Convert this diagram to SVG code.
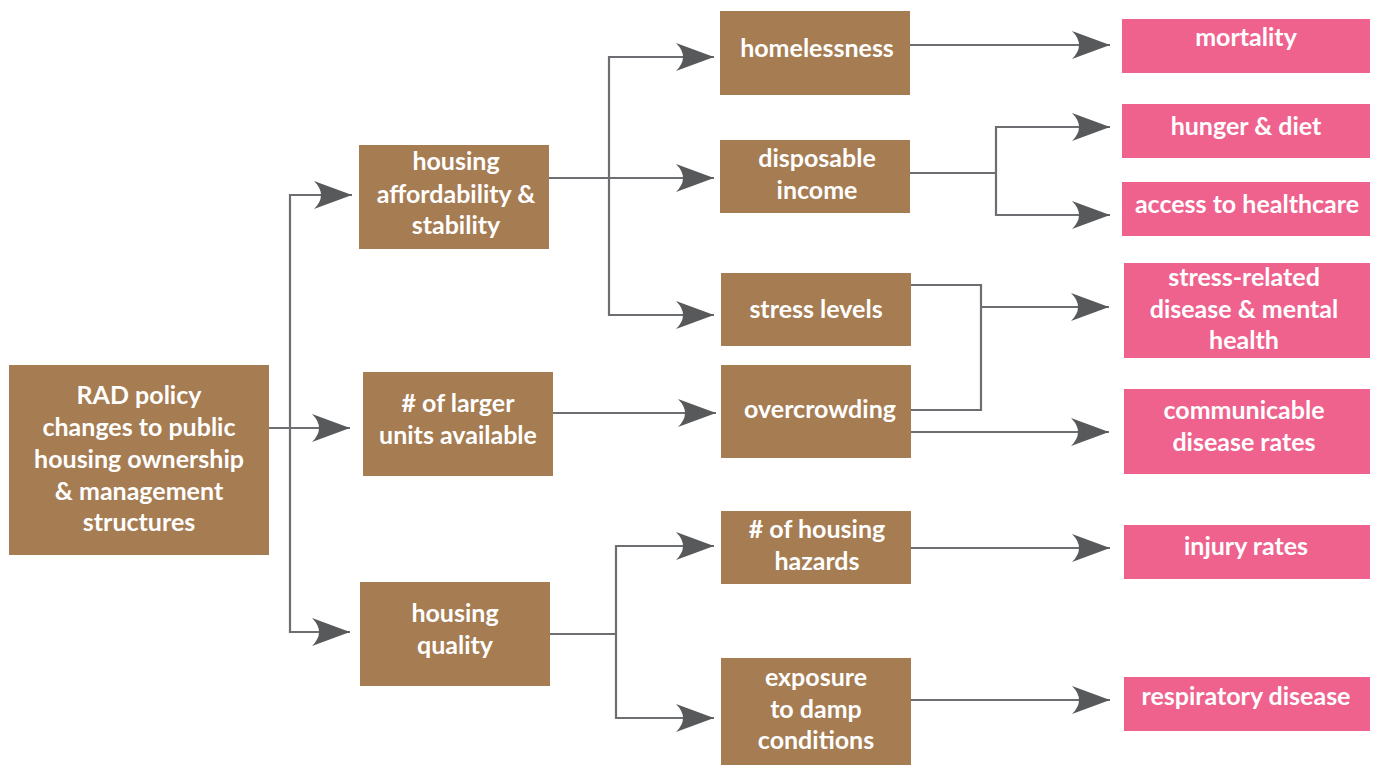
<svg xmlns="http://www.w3.org/2000/svg" width="1375" height="765" viewBox="0 0 1375 765">
<style>
.b{fill:#a67c52}
.p{fill:#ef628e}
text{font-family:Lato,"Open Sans","Liberation Sans",sans-serif;font-weight:bold;font-size:25px;fill:#ffffff;text-anchor:middle}
.c path{fill:none;stroke:#6d6e71;stroke-width:2.2}
</style>
<defs>
<marker id="ah" viewBox="0 0 40 30" refX="38" refY="15" markerWidth="40" markerHeight="30" markerUnits="userSpaceOnUse" orient="auto">
<path d="M38,15 L0,1 Q14,15 0,29 Z" fill="#58595b"/>
</marker>
</defs>
<rect width="1375" height="765" fill="#ffffff"/>
<g class="c">
<path d="M269,428 H350" marker-end="url(#ah)"/>
<path d="M290,428 V195 H352" marker-end="url(#ah)"/>
<path d="M290,428 V632 H350" marker-end="url(#ah)"/>
<path d="M549,178 H714" marker-end="url(#ah)"/>
<path d="M609,178 V57 H714" marker-end="url(#ah)"/>
<path d="M609,178 V315 H714" marker-end="url(#ah)"/>
<path d="M553,413 H716" marker-end="url(#ah)"/>
<path d="M550,634 H616" />
<path d="M616,634 V546 H714" marker-end="url(#ah)"/>
<path d="M616,634 V718 H714" marker-end="url(#ah)"/>
<path d="M910,45 H1110" marker-end="url(#ah)"/>
<path d="M910,173 H996" />
<path d="M996,173 V127 H1110" marker-end="url(#ah)"/>
<path d="M996,173 V215 H1110" marker-end="url(#ah)"/>
<path d="M911,285 H981 V410 H911" />
<path d="M981,307 H1109" marker-end="url(#ah)"/>
<path d="M911,432 H1109" marker-end="url(#ah)"/>
<path d="M911,548 H1110" marker-end="url(#ah)"/>
<path d="M911,700 H1110" marker-end="url(#ah)"/>
</g>
<g id="rad"><rect class="b" x="9" y="365" width="260" height="190"/>
<text x="139" y="404">RAD policy</text><text x="139" y="436">changes to public</text><text x="139" y="468">housing ownership</text><text x="139" y="500">&amp; management</text><text x="139" y="531">structures</text></g>
<g id="afford"><rect class="b" x="359" y="145" width="190" height="104"/>
<text x="456" y="170">housing</text><text x="456" y="203">affordability &amp;</text><text x="456" y="234">stability</text></g>
<g id="larger"><rect class="b" x="363" y="372" width="190" height="104"/>
<text x="458" y="412">#&#160;of larger</text><text x="458" y="444">units available</text></g>
<g id="quality"><rect class="b" x="360" y="582" width="190" height="104"/>
<text x="455" y="622">housing</text><text x="455" y="654">quality</text></g>
<g id="homeless"><rect class="b" x="720" y="11" width="190" height="84"/>
<text x="817" y="57">homelessness</text></g>
<g id="income"><rect class="b" x="720" y="140" width="190" height="73"/>
<text x="817" y="167">disposable</text><text x="817" y="199">income</text></g>
<g id="stress"><rect class="b" x="721" y="273" width="190" height="73"/>
<text x="816" y="318">stress levels</text></g>
<g id="overcrowd"><rect class="b" x="721" y="365" width="190" height="93"/>
<text x="820" y="418">overcrowding</text></g>
<g id="hazards"><rect class="b" x="721" y="511" width="190" height="73"/>
<text x="817" y="538">#&#160;of housing</text><text x="817" y="570">hazards</text></g>
<g id="damp"><rect class="b" x="721" y="658" width="190" height="107"/>
<text x="816" y="686">exposure</text><text x="816" y="718">to damp</text><text x="816" y="749">conditions</text></g>
<g id="mortality"><rect class="p" x="1122" y="19" width="248" height="54"/>
<text x="1246" y="46">mortality</text></g>
<g id="hunger"><rect class="p" x="1122" y="104" width="248" height="54"/>
<text x="1246" y="135">hunger &amp; diet</text></g>
<g id="access"><rect class="p" x="1122" y="182" width="248" height="54"/>
<text x="1247" y="213">access to healthcare</text></g>
<g id="stressdis"><rect class="p" x="1124" y="263" width="246" height="95"/>
<text x="1244" y="286">stress-related</text><text x="1244" y="318">disease &amp; mental</text><text x="1244" y="349">health</text></g>
<g id="commun"><rect class="p" x="1124" y="389" width="246" height="85"/>
<text x="1244" y="419">communicable</text><text x="1244" y="451">disease rates</text></g>
<g id="injury"><rect class="p" x="1124" y="525" width="246" height="54"/>
<text x="1246" y="555">injury rates</text></g>
<g id="resp"><rect class="p" x="1124" y="677" width="246" height="54"/>
<text x="1246" y="705">respiratory disease</text></g>
</svg>
